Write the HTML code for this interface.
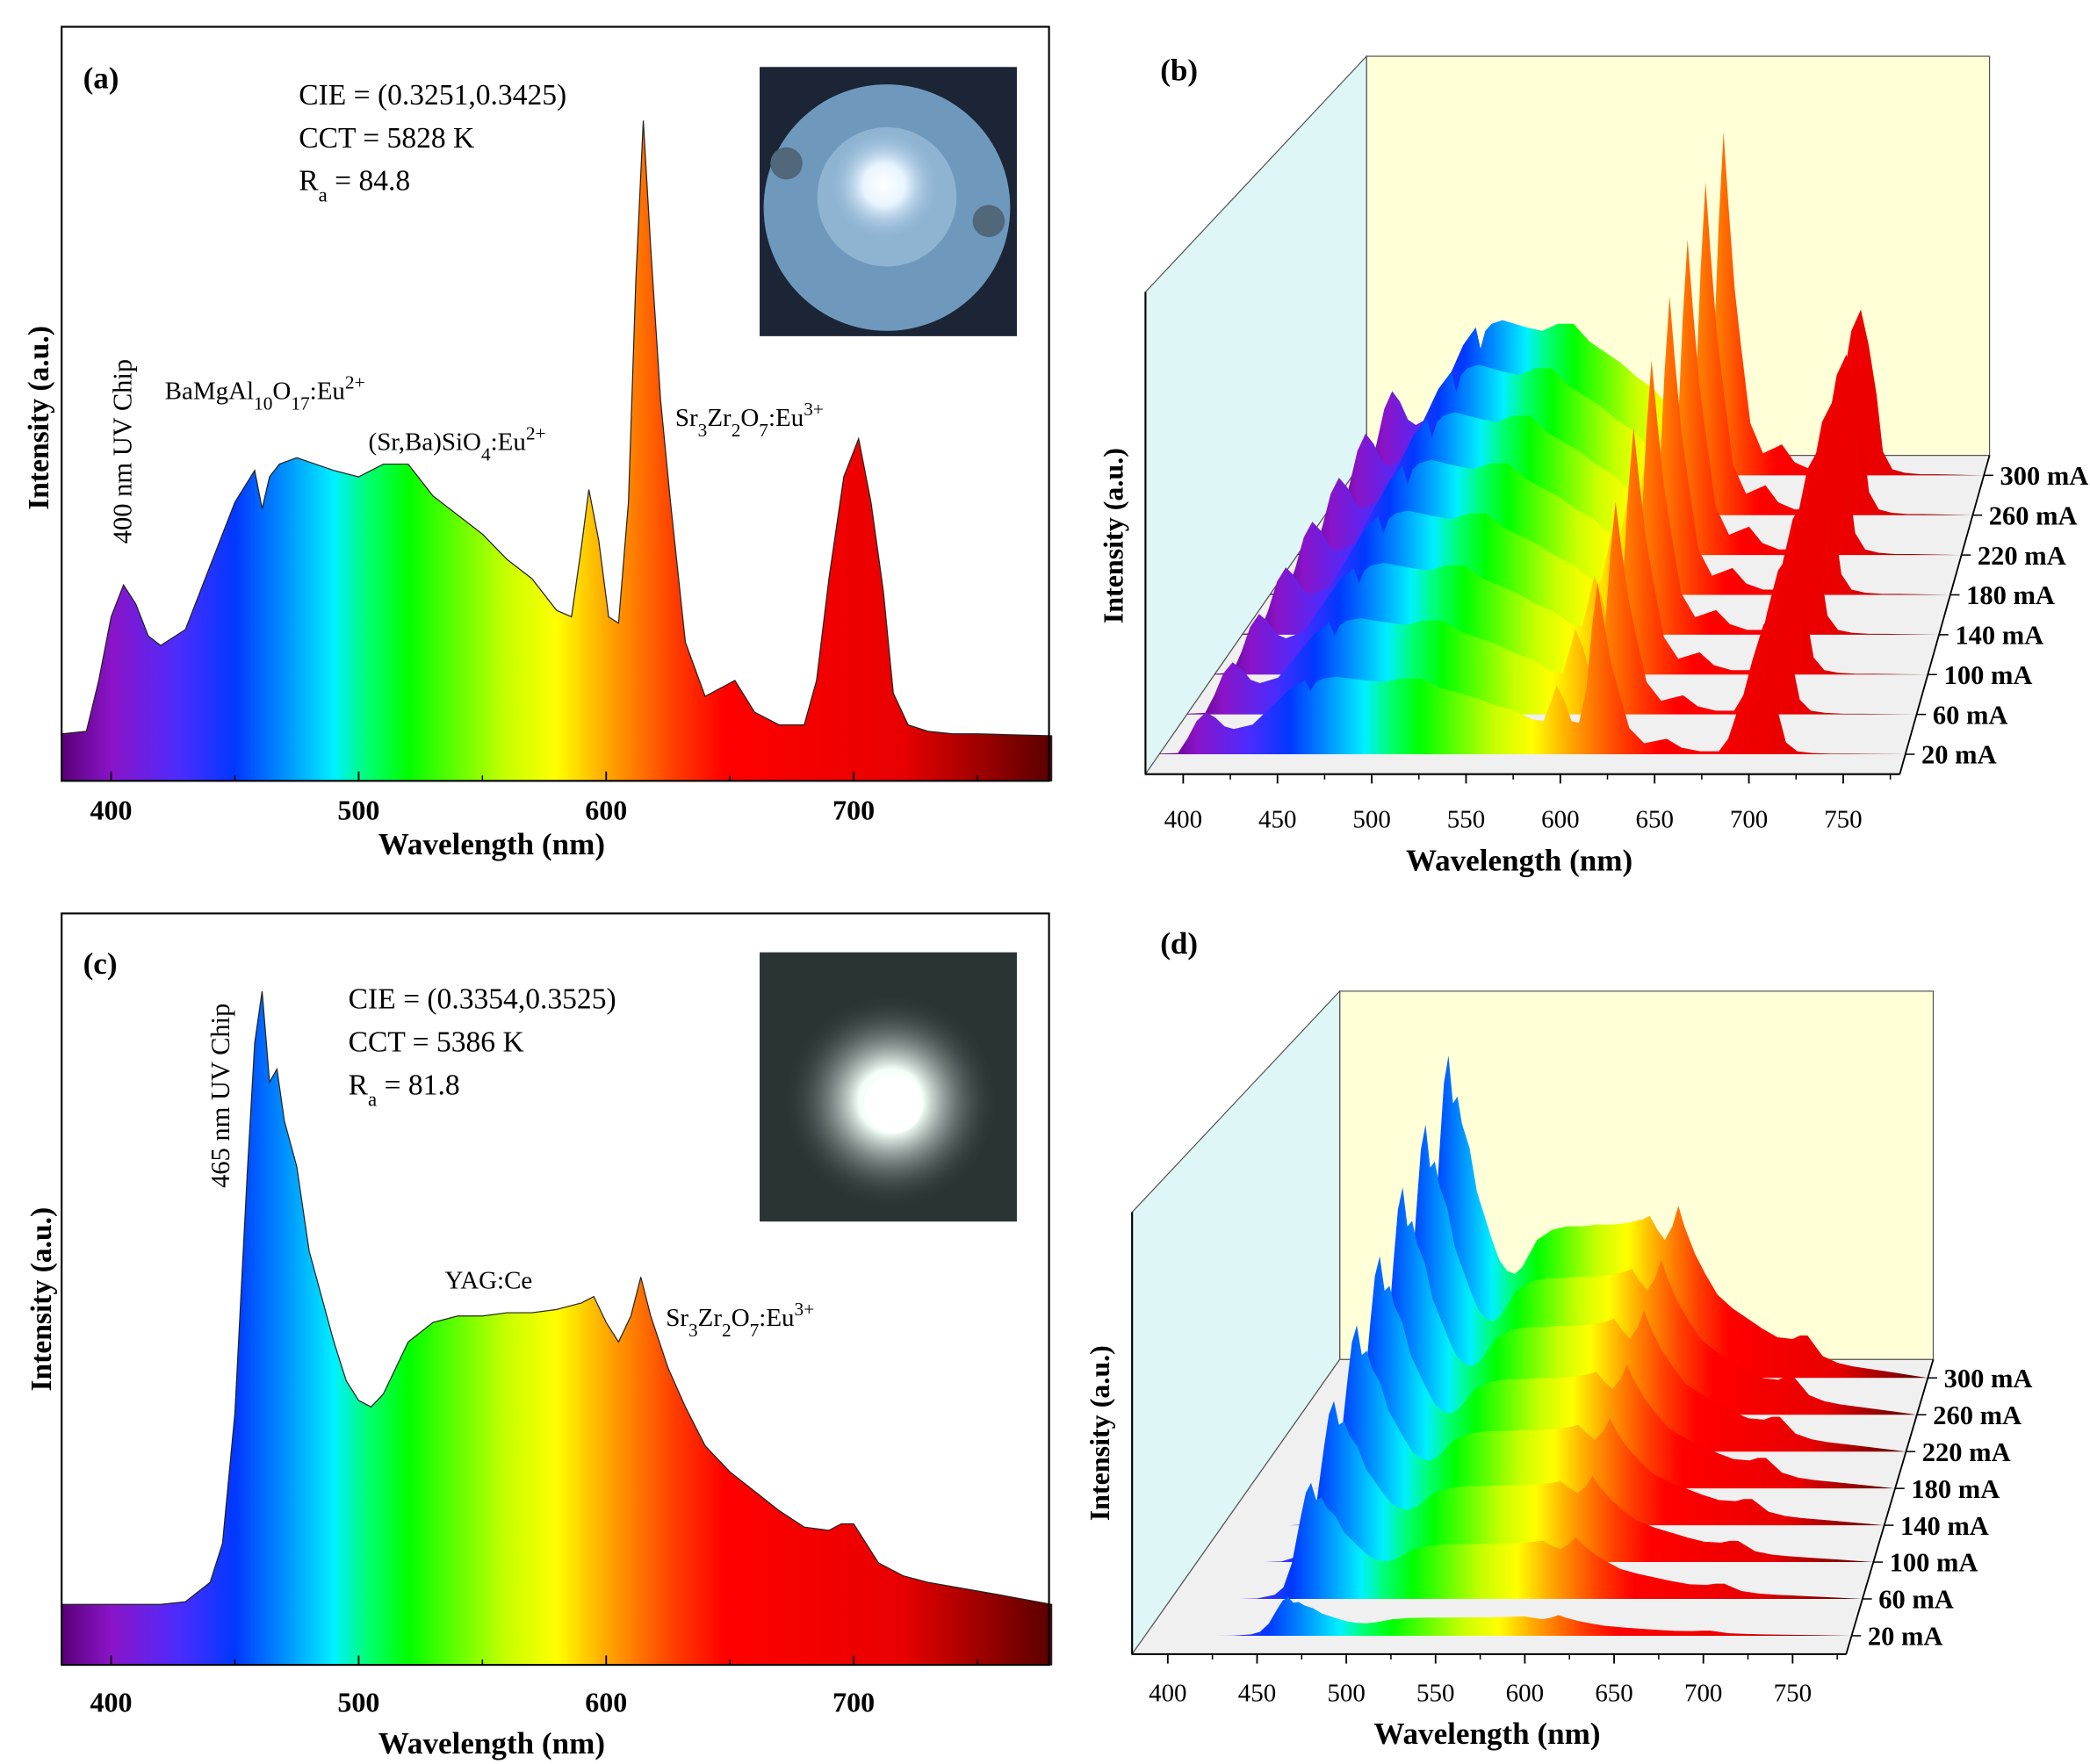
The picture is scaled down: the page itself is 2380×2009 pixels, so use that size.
<!DOCTYPE html>
<html><head><meta charset="utf-8">
<style>
html,body{margin:0;padding:0;background:#fff;}
svg{display:block;font-family:"Liberation Serif",serif;}
</style></head>
<body>
<svg id="fig" xmlns="http://www.w3.org/2000/svg" width="2380" height="2009" viewBox="0 0 1560 1317" preserveAspectRatio="none">
<defs>
<linearGradient id="spec" x1="0" x2="1" y1="0" y2="0">
<stop offset="0" stop-color="#5a0078"/>
<stop offset="0.05" stop-color="#8a14c8"/>
<stop offset="0.12" stop-color="#4a2cff"/>
<stop offset="0.175" stop-color="#0038ff"/>
<stop offset="0.225" stop-color="#0090ff"/>
<stop offset="0.275" stop-color="#00f0ff"/>
<stop offset="0.31" stop-color="#00ff70"/>
<stop offset="0.35" stop-color="#00ff00"/>
<stop offset="0.45" stop-color="#c8ff00"/>
<stop offset="0.5" stop-color="#ffff00"/>
<stop offset="0.55" stop-color="#ffa800"/>
<stop offset="0.62" stop-color="#ff3c00"/>
<stop offset="0.67" stop-color="#ff0000"/>
<stop offset="0.85" stop-color="#e80000"/>
<stop offset="1" stop-color="#5a0000"/>
</linearGradient>
<radialGradient id="glowA" cx="0.5" cy="0.5" r="0.5"><stop offset="0" stop-color="#fff"/><stop offset="0.35" stop-color="#e8f4ff"/><stop offset="1" stop-color="#7aa6cc" stop-opacity="0"/></radialGradient>
<radialGradient id="glowC" cx="0.5" cy="0.5" r="0.5"><stop offset="0" stop-color="#fff"/><stop offset="0.3" stop-color="#f2fff8"/><stop offset="1" stop-color="#2a3a3a" stop-opacity="0"/></radialGradient>
</defs>
<g id="layer"></g>
</svg>
<script>
// ---- data ----
const aWl  = [380,390,395,400,405,410,415,420,430,440,450,458,461,464,468,475,490,500,510,520,530,540,550,560,570,580,586,590,593,597,601,605,609,612,615,618,622,626,632,640,652,660,670,680,685,690,696,702,707,712,716,722,730,740,750,760,780];
const aInt = [0.036,0.04,0.12,0.22,0.27,0.24,0.19,0.175,0.2,0.3,0.4,0.45,0.39,0.44,0.46,0.47,0.45,0.44,0.46,0.46,0.41,0.38,0.35,0.31,0.28,0.23,0.22,0.33,0.42,0.34,0.22,0.21,0.4,0.75,1.0,0.8,0.56,0.4,0.18,0.095,0.12,0.07,0.05,0.05,0.12,0.28,0.44,0.5,0.4,0.26,0.1,0.05,0.04,0.036,0.036,0.035,0.033];
const cWl  = [380,420,430,440,445,450,455,458,461,464,467,470,475,480,485,490,495,500,505,510,520,530,540,550,560,570,580,590,595,600,605,610,614,618,625,632,640,650,660,670,680,690,695,700,705,710,720,730,745,760,780];
const cInt = [0.056,0.056,0.06,0.09,0.15,0.35,0.72,0.92,1.0,0.86,0.88,0.8,0.73,0.6,0.53,0.46,0.4,0.37,0.36,0.38,0.46,0.49,0.5,0.5,0.505,0.505,0.51,0.52,0.53,0.49,0.46,0.5,0.56,0.5,0.42,0.36,0.3,0.26,0.23,0.2,0.175,0.17,0.18,0.18,0.15,0.12,0.1,0.09,0.08,0.07,0.056];
const currents = ["20 mA","60 mA","100 mA","140 mA","180 mA","220 mA","260 mA","300 mA"];
const bScale = [0.5,0.62,0.72,0.8,0.87,0.92,0.97,1.0];
const dScale = [0.12,0.36,0.5,0.62,0.72,0.82,0.9,1.0];
const xTicks = [400,500,600,700];
const x3Ticks = [400,450,500,550,600,650,700,750];

// ---- helpers ----
const NS = 'http://www.w3.org/2000/svg';
const L = document.getElementById('layer');
function el(tag, attrs, parent){ const e=document.createElementNS(NS,tag); for(const k in attrs) e.setAttribute(k,attrs[k]); (parent||L).appendChild(e); return e; }
function txt(x,y,s,size,opts){ const t=el('text',Object.assign({x:x,y:y,'font-size':size,fill:'#000'},opts||{})); t.innerHTML=s; return t; }
function pathFrom(wl, vals, xf, yf){
  let d='M'+xf(wl[0]).toFixed(2)+','+yf(0).toFixed(2);
  for(let i=0;i<wl.length;i++) d+=' L'+xf(wl[i]).toFixed(2)+','+yf(vals[i]).toFixed(2);
  d+=' L'+xf(wl[wl.length-1]).toFixed(2)+','+yf(0).toFixed(2)+' Z';
  return d;
}

// ===== Panel (a) =====
const xA = w => 46 + (w-380)*1.8475;
const yA = v => 565 - v*475;
let g = el('g',{});


let p = el('path',{d:pathFrom(aWl,aInt,xA,v=>v===0?583:yA(v)),fill:'url(#spec)',stroke:'#222','stroke-width':0.8},g);


let r = el('rect',{x:46,y:20,width:737,height:563,fill:'none',stroke:'#000','stroke-width':1.4},g);


for(const t of xTicks){
  let tk = el('line',{x1:xA(t),x2:xA(t),y1:583,y2:576,stroke:'#000','stroke-width':1.2},g);
  
  
  let lb = txt(xA(t),612,String(t),21,{'text-anchor':'middle','font-weight':'bold'});
  g.appendChild(lb);
  
  
}
for(const t of [450,550,650,750]){ el('line',{x1:xA(t),x2:xA(t),y1:583,y2:579,stroke:'#000','stroke-width':1},g); }
let ax = txt(367,638,'Wavelength (nm)',23,{'text-anchor':'middle','font-weight':'bold'}); g.appendChild(ax);


let ay = txt(0,0,'Intensity (a.u.)',22,{'text-anchor':'middle','font-weight':'bold',transform:'translate(36,312) rotate(-90)'}); g.appendChild(ay);


let la = txt(62,66,'(a)',23,{'font-weight':'bold'}); g.appendChild(la);


let i1 = txt(223,78,'CIE = (0.3251,0.3425)',22); g.appendChild(i1);


g.appendChild(txt(223,110,'CCT = 5828 K',22));
g.appendChild(txt(223,142,'R<tspan baseline-shift="sub" font-size="15">a</tspan> = 84.8',22));
let an1 = txt(0,0,'400 nm UV Chip',20,{'text-anchor':'middle',transform:'translate(98,337) rotate(-90)'}); g.appendChild(an1);


g.appendChild(txt(123,298,'BaMgAl<tspan baseline-shift="sub" font-size="14">10</tspan>O<tspan baseline-shift="sub" font-size="14">17</tspan>:Eu<tspan baseline-shift="super" font-size="14">2+</tspan>',19));
g.appendChild(txt(275,336,'(Sr,Ba)SiO<tspan baseline-shift="sub" font-size="14">4</tspan>:Eu<tspan baseline-shift="super" font-size="14">2+</tspan>',19));
g.appendChild(txt(504,318,'Sr<tspan baseline-shift="sub" font-size="14">3</tspan>Zr<tspan baseline-shift="sub" font-size="14">2</tspan>O<tspan baseline-shift="sub" font-size="14">7</tspan>:Eu<tspan baseline-shift="super" font-size="14">3+</tspan>',19));
let ph = el('g',{},g);


el('rect',{x:567,y:50,width:192,height:201,fill:'#1c2535'},ph);
el('circle',{cx:662,cy:155,r:92,fill:'#6f98bd'},ph);
el('circle',{cx:662,cy:147,r:52,fill:'#8fb4d2'},ph);
el('circle',{cx:660,cy:138,r:45,fill:'url(#glowA)'},ph);
el('circle',{cx:587,cy:122,r:12,fill:'#51677a'},ph);
el('circle',{cx:738,cy:165,r:12,fill:'#51677a'},ph);

// ===== Panel (c) =====
const yC = v => 1225 - v*485;
g = el('g',{});


p = el('path',{d:pathFrom(cWl,cInt,xA,v=>v===0?1243:yC(v)),fill:'url(#spec)',stroke:'#222','stroke-width':0.8},g);


r = el('rect',{x:46,y:682,width:737,height:561,fill:'none',stroke:'#000','stroke-width':1.4},g);


for(const t of xTicks){
  let tk = el('line',{x1:xA(t),x2:xA(t),y1:1243,y2:1236,stroke:'#000','stroke-width':1.2},g);
  
  
  let lb = txt(xA(t),1278,String(t),21,{'text-anchor':'middle','font-weight':'bold'}); g.appendChild(lb);
  
  
}
for(const t of [450,550,650,750]){ el('line',{x1:xA(t),x2:xA(t),y1:1243,y2:1239,stroke:'#000','stroke-width':1},g); }
ax = txt(367,1309,'Wavelength (nm)',23,{'text-anchor':'middle','font-weight':'bold'}); g.appendChild(ax);


ay = txt(0,0,'Intensity (a.u.)',22,{'text-anchor':'middle','font-weight':'bold',transform:'translate(38,970) rotate(-90)'}); g.appendChild(ay);


la = txt(62,727,'(c)',23,{'font-weight':'bold'}); g.appendChild(la);


i1 = txt(260,753,'CIE = (0.3354,0.3525)',22); g.appendChild(i1);


g.appendChild(txt(260,785,'CCT = 5386 K',22));
g.appendChild(txt(260,817,'R<tspan baseline-shift="sub" font-size="15">a</tspan> = 81.8',22));
an1 = txt(0,0,'465 nm UV Chip',20,{'text-anchor':'middle',transform:'translate(171,818) rotate(-90)'}); g.appendChild(an1);


g.appendChild(txt(332,962,'YAG:Ce',19));
g.appendChild(txt(497,990,'Sr<tspan baseline-shift="sub" font-size="14">3</tspan>Zr<tspan baseline-shift="sub" font-size="14">2</tspan>O<tspan baseline-shift="sub" font-size="14">7</tspan>:Eu<tspan baseline-shift="super" font-size="14">3+</tspan>',19));
ph = el('g',{},g);


el('rect',{x:567,y:711,width:192,height:201,fill:'#2a3434'},ph);
el('circle',{cx:665,cy:822,r:80,fill:'url(#glowC)'},ph);
el('circle',{cx:667,cy:824,r:22,fill:'#fff'},ph);

// ===== 3D panels =====
function panel3D(cfg){
  const G = el('g',{});
  
  
  const [fl,fr,bl,br,top] = [cfg.fl,cfg.fr,cfg.bl,cfg.br,cfg.top];
  let w = el('rect',{x:bl[0],y:top,width:br[0]-bl[0],height:bl[1]-top,fill:'#ffffd8',stroke:'#555','stroke-width':0.8},G);
  
  
  w = el('polygon',{points:`${fl[0]},${cfg.leftTop} ${bl[0]},${top} ${bl[0]},${bl[1]} ${fl[0]},${fl[1]}`,fill:'#dff6f6',stroke:'#555','stroke-width':0.8},G);
  
  
  w = el('polygon',{points:`${fl[0]},${fl[1]} ${fr[0]},${fr[1]} ${br[0]},${br[1]} ${bl[0]},${bl[1]}`,fill:'#f0f0f0',stroke:'#555','stroke-width':0.8},G);
  
  
  const n = currents.length;
  const base = Math.min(...cfg.vals);
  for(let i=n-1;i>=0;i--){
    const f = (i+0.5)/n;
    const lx = fl[0]+(bl[0]-fl[0])*f, rx = fr[0]+(br[0]-fr[0])*f;
    const by = fl[1]+(bl[1]-fl[1])*f;
    const xf = wv => lx + (wv-380)/400*(rx-lx);
    const yf = v => by - Math.max(0,v-base)*cfg.scale[i]*cfg.amp;
    const sp = el('path',{d:pathFrom(cfg.wl,cfg.vals,xf,yf),fill:'url(#spec)',stroke:'none'},G);
    
    
    const ry = fr[1]+(br[1]-fr[1])*f, rrx = fr[0]+(br[0]-fr[0])*f;
    el('line',{x1:rrx,y1:ry,x2:rrx+7,y2:ry,stroke:'#000','stroke-width':1},G);
    const lb = txt(rrx+12,ry+7,currents[i],20,{'font-weight':'bold'}); G.appendChild(lb);
    
    
  }
  el('line',{x1:fr[0],y1:fr[1],x2:br[0],y2:br[1],stroke:'#000','stroke-width':1.2},G);
  el('line',{x1:fl[0],y1:fl[1],x2:fr[0],y2:fr[1],stroke:'#000','stroke-width':1.4},G);
  el('line',{x1:fl[0],y1:fl[1],x2:fl[0],y2:cfg.leftTop,stroke:'#000','stroke-width':1.4},G);
  const xa = wv => fl[0] + (wv-380)/400*(fr[0]-fl[0]);
  for(const t of x3Ticks){
    const tk = el('line',{x1:xa(t),x2:xa(t),y1:fl[1],y2:fl[1]+7,stroke:'#000','stroke-width':1.2},G);
    
    
    el('line',{x1:xa(t+25),x2:xa(t+25),y1:fl[1],y2:fl[1]+4,stroke:'#000','stroke-width':1},G);
    const lb = txt(xa(t),fl[1]+cfg.tickDy,String(t),19,{'text-anchor':'middle'}); G.appendChild(lb);
    
    
  }
  const xt = txt(cfg.xTitle[0],cfg.xTitle[1],'Wavelength (nm)',23,{'text-anchor':'middle','font-weight':'bold'}); G.appendChild(xt);
  
  
  const yt = txt(0,0,'Intensity (a.u.)',21,{'text-anchor':'middle','font-weight':'bold',transform:`translate(${cfg.yTitle[0]},${cfg.yTitle[1]}) rotate(-90)`}); G.appendChild(yt);
  
  
  const pl = txt(cfg.label[0],cfg.label[1],cfg.labelText,23,{'font-weight':'bold'}); G.appendChild(pl);
  
  
}
panel3D({name:'panel-b',fl:[855,578],fr:[1418,578],bl:[1020,340],br:[1485,340],top:42,leftTop:218,
  wl:aWl,vals:aInt,scale:bScale,amp:265,tickDy:40,xTitle:[1134,650],yTitle:[838,400],label:[866,60],labelText:'(b)'});
panel3D({name:'panel-d',fl:[845,1235],fr:[1378,1235],bl:[1000,1015],br:[1443,1015],top:740,leftTop:905,
  wl:cWl,vals:cInt,scale:dScale,amp:255,tickDy:35,xTitle:[1110,1302],yTitle:[828,1070],label:[866,712],labelText:'(d)'});
</script>
</body></html>
